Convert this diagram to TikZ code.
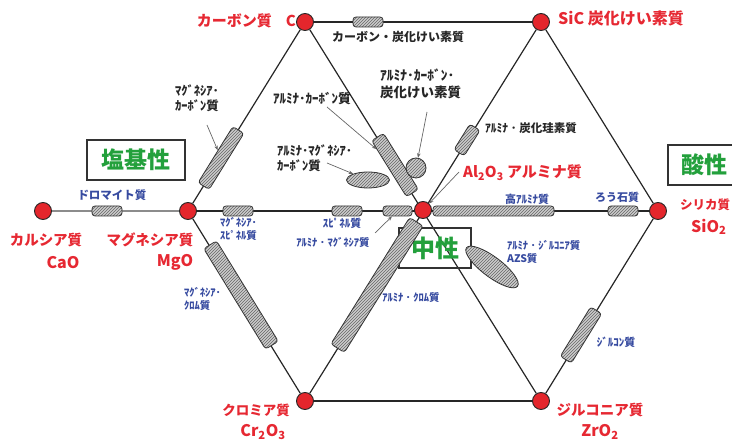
\documentclass[tikz,border=0pt]{standalone}
\usepackage{fontspec}
\setmainfont{Noto Sans CJK JP}
\usetikzlibrary{patterns,shapes.geometric,arrows.meta}
\pgfdeclarelayer{bg}
\pgfsetlayers{bg,main}
\definecolor{nodered}{RGB}{228,38,44}
\definecolor{labred}{RGB}{230,40,50}
\definecolor{labblue}{RGB}{55,75,160}
\definecolor{labgreen}{RGB}{35,160,60}
\definecolor{hatchfill}{RGB}{205,205,205}
\newcommand{\fs}[1]{\fontsize{#1}{#1}\selectfont}
\begin{document}
\begin{tikzpicture}[x=1pt,y=-1pt,
  oxide/.style={circle,fill=nodered,draw=black!85,line width=0.9pt,minimum size=17pt,inner sep=0pt},
  edge/.style={draw=black!85,line width=1.2pt},
  bar/.style={draw=black!80,line width=0.8pt,rounded corners=3pt,preaction={fill=hatchfill},pattern=north east lines,pattern color=black!60,inner sep=0pt},
  blob/.style={draw=black!80,line width=0.8pt,preaction={fill=hatchfill},pattern=north east lines,pattern color=black!60,inner sep=0pt},
  ptr/.style={draw=black!60,line width=0.7pt,-{Stealth[length=4.5pt,width=3.5pt]}},
  redlab/.style={text=labred,font=\fs{14.5}\bfseries,inner sep=0pt},
  blklab/.style={text=black!85,font=\fs{12}\bfseries,inner sep=0pt,align=left},
  bluelab/.style={text=labblue,font=\fs{10.5}\bfseries,inner sep=0pt,align=left},
  greenbox/.style={draw=black!80,line width=1.2pt,text=labgreen,font=\fs{23}\bfseries,inner sep=0pt}
]
\useasboundingbox (0,0) rectangle (732,443);

% oxide nodes
\node[oxide] (C)    at (305,22)  {};
\node[oxide] (SiC)  at (541,22)  {};
\node[oxide] (MgO)  at (188,211) {};
\node[oxide] (Al)   at (423,210) {};
\node[oxide] (SiO)  at (658,211) {};
\node[oxide] (CaO)  at (43,211)  {};
\node[oxide] (Cr)   at (305,401) {};
\node[oxide] (Zr)   at (541,401) {};

\begin{pgfonlayer}{bg}
% hexagon and diagonals
\draw[edge] (C) -- (SiC);
\draw[edge] (SiC) -- (SiO);
\draw[edge] (SiO) -- (Zr);
\draw[edge] (Zr) -- (Cr);
\draw[edge] (Cr) -- (MgO);
\draw[edge] (MgO) -- (C);
\draw[edge] (C) -- (Zr);
\draw[edge] (SiC) -- (Cr);
\draw[edge] (MgO) -- (SiO);
\draw[edge,draw=black!45] (CaO) -- (MgO);

% boxes
\node[greenbox,minimum width=98pt,minimum height=40pt] (gBasic) at (136,160) {塩基性};
\node[greenbox,minimum width=72pt,minimum height=40pt,font=\fs{24}\bfseries] (gNeutral) at (435,248) {中性};
\node[greenbox,minimum width=72pt,minimum height=40pt] (gAcid) at (704,165) {酸性};

% hatched bars
\node[bar,minimum width=30pt,minimum height=10pt] (bTop) at (368,22) {};
\node[bar,minimum width=30pt,minimum height=10pt] (bDol) at (107,211) {};
\node[bar,minimum width=66pt,minimum height=13pt,rotate=58.2] (bMC) at (221,158) {};
\node[bar,minimum width=118pt,minimum height=15pt,rotate=-58.4] (bMCr) at (241,295) {};
\node[bar,minimum width=149pt,minimum height=16pt,rotate=58.1] (bACr) at (377,285) {};
\node[bar,minimum width=30pt,minimum height=12pt,rotate=58.1] (bASiC) at (467,140) {};
\node[bar,minimum width=66pt,minimum height=14pt,rotate=-58.1] (bAC) at (395,165) {};
\node[bar,minimum width=30pt,minimum height=10pt] (bMS) at (238,211) {};
\node[bar,minimum width=30pt,minimum height=10pt] (bSp) at (347,211) {};
\node[bar,minimum width=29pt,minimum height=10pt] (bAM) at (397.5,211) {};
\node[bar,minimum width=121pt,minimum height=10pt] (bHA) at (493.5,211) {};
\node[bar,minimum width=30pt,minimum height=10pt] (bPy) at (623,211) {};
\node[bar,minimum width=58pt,minimum height=13pt,rotate=58.4] (bZc) at (581,335) {};
\node[blob,circle,minimum size=20pt] (cACS) at (416,168) {};
\node[blob,ellipse,minimum width=43pt,minimum height=16pt] (eAMC) at (368,180) {};
\node[blob,ellipse,minimum width=64pt,minimum height=20pt,rotate=-37] (eAZS) at (492,267) {};
\end{pgfonlayer}

% pointer lines
\coordinate (qMC)  at (207,125);
\coordinate (qAC)  at (327,107);
\coordinate (qACS) at (427,112);
\coordinate (qAMC) at (327,163);
\coordinate (qAl)  at (459,172);
\coordinate (qAM)  at (375,233);
\draw[ptr] (qMC) -- (bMC);
\draw[ptr] (qAC) -- (bAC);
\draw[ptr] (qACS) -- (cACS);
\draw[ptr] (qAMC) -- (eAMC);
\draw[ptr] (qAl) -- (Al);
\draw[ptr] (qAM) -- (bAM);

% red labels
\node[redlab,anchor=east,font=\fs{15}\bfseries] (lC) at (296,21) {カーボン質\hspace{14pt}C};
\node[redlab,anchor=west,font=\fs{16}\bfseries] (lSiC) at (558,18) {SiC 炭化けい素質};
\node[redlab] (lCaO1) at (46,240) {カルシア質};
\node[redlab,font=\fs{16}\bfseries] (lCaO2) at (63,263) {CaO};
\node[redlab] (lMgO1) at (150,240) {マグネシア質};
\node[redlab,font=\fs{16}\bfseries] (lMgO2) at (175,262) {MgO};
\node[redlab,anchor=west,font=\fs{15}\bfseries] (lAl) at (463,173) {Al\textsubscript{2}O\textsubscript{3} アルミナ質};
\node[redlab,anchor=west,font=\fs{12.5}\bfseries] (lSiO1) at (680,205) {シリカ質};
\node[redlab,anchor=west,font=\fs{16}\bfseries] (lSiO2) at (691,227) {SiO\textsubscript{2}};
\node[redlab,font=\fs{13.5}\bfseries] (lCr1) at (256,410) {クロミア質};
\node[redlab,font=\fs{16}\bfseries] (lCr2) at (263,432) {Cr\textsubscript{2}O\textsubscript{3}};
\node[redlab] (lZr1) at (600,410) {ジルコニア質};
\node[redlab,font=\fs{16}\bfseries] (lZr2) at (600,432) {ZrO\textsubscript{2}};

% black labels
\node[blklab] (lCSiC) at (398,37) {カーボン・炭化けい素質};
\node[blklab,anchor=west,font=\fs{12.5}\bfseries] (lMC) at (175,98) {ﾏｸﾞﾈｼｱ･\\[3pt]ｶｰﾎﾞﾝ質};
\node[blklab,font=\fs{13}\bfseries] (lAC) at (312,99) {ｱﾙﾐﾅ･ｶｰﾎﾞﾝ質};
\node[blklab,anchor=west,font=\fs{13.5}\bfseries] (lACS) at (380,84) {ｱﾙﾐﾅ･ｶｰﾎﾞﾝ･\\[3pt]炭化けい素質};
\node[blklab,font=\fs{11.5}\bfseries] (lASiC) at (531,128) {ｱﾙﾐﾅ ･ 炭化珪素質};
\node[blklab,anchor=west,font=\fs{12.5}\bfseries] (lAMC) at (277,158) {ｱﾙﾐﾅ･ﾏｸﾞﾈｼｱ･\\[3pt]ｶｰﾎﾞﾝ質};

% blue labels
\node[bluelab,font=\fs{11.5}\bfseries] (lDol) at (112,195) {ドロマイト質};
\node[bluelab,anchor=west] (lMS) at (220,229) {ﾏｸﾞﾈｼｱ･\\[2pt]ｽﾋﾟﾈﾙ質};
\node[bluelab,font=\fs{11}\bfseries] (lSp) at (342,223) {ｽﾋﾟﾈﾙ質};
\node[bluelab] (lAM) at (333,242) {ｱﾙﾐﾅ ･ ﾏｸﾞﾈｼｱ質};
\node[bluelab,font=\fs{11}\bfseries] (lHA) at (527,199) {高ｱﾙﾐﾅ質};
\node[bluelab,font=\fs{11}\bfseries] (lPy) at (617,197) {ろう石質};
\node[bluelab,anchor=west] (lAZS) at (507,252) {ｱﾙﾐﾅ ･ ｼﾞﾙｺﾆｱ質\\[2pt]AZS質};
\node[bluelab,anchor=west] (lMCr) at (184,299) {ﾏｸﾞﾈｼｱ･\\[2pt]ｸﾛﾑ質};
\node[bluelab] (lACr) at (411,298) {ｱﾙﾐﾅ ･ ｸﾛﾑ質};
\node[bluelab,font=\fs{11}\bfseries] (lZc) at (616,342) {ｼﾞﾙｺﾝ質};
\end{tikzpicture}
\end{document}
